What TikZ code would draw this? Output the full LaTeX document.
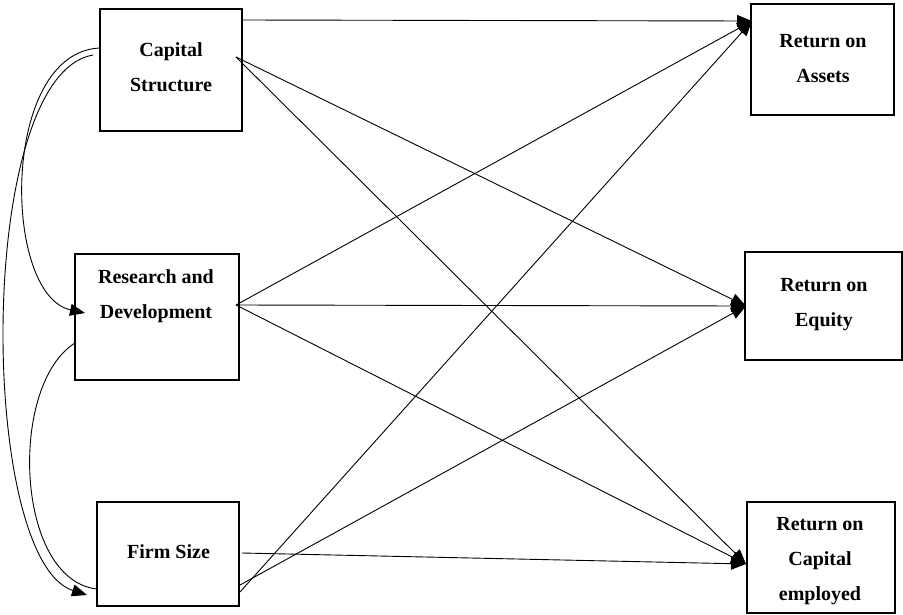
\documentclass[tikz,border=0pt]{standalone}
\usepackage{fontspec}
\setmainfont{Liberation Serif}
\usetikzlibrary{arrows.meta}
\begin{document}
\begin{tikzpicture}[x=1pt,y=-1pt,
  box/.style args={#1x#2}{draw,line width=1.8pt,minimum width=#1pt,minimum height=#2pt,inner sep=0pt},
  lbl/.style={font=\fontsize{20}{35}\selectfont\bfseries,align=center,inner sep=0pt},
  link/.style={line width=0.9pt},
  arr/.style={line width=0.9pt,-{Triangle[length=15pt,width=12pt]}}]
\useasboundingbox (0,0) rectangle (903,614);
% boxes
\node[box=142x122] (cs) at (171,70) {};
\node[box=164x126] (rd) at (157,317) {};
\node[box=142x104] (fs) at (168,554) {};
\node[box=143x111] (roa) at (822.5,59.5) {};
\node[box=157x108] (roe) at (823.5,306) {};
\node[box=148x111] (roce) at (821,557.5) {};
% labels
\node[lbl] (tcs) at (171,67) {Capital\\Structure};
\node[lbl] (trd) at (156,296) {Research and\\Development};
\node[lbl] (tfs) at (168.5,552) {Firm Size};
\node[lbl] (troa) at (823,59) {Return on\\Assets};
\node[lbl] (troe) at (824,305) {Return on\\Equity};
\node[lbl] (troce) at (820,561) {Return on\\Capital\\employed};
% ports
\coordinate (csA) at (242,20);
\coordinate (csB) at (236,57);
\coordinate (csL1) at (100,48);
\coordinate (csL2) at (93,55);
\coordinate (rdR) at (236,305);
\coordinate (rdL) at (75,343);
\coordinate (rdIn) at (85,313);
\coordinate (fsR) at (242,553);
\coordinate (fsB1) at (240,585);
\coordinate (fsB2) at (240,592);
\coordinate (fsIn) at (87,595);
\coordinate (fsL) at (97,589);
\coordinate (roaIn) at (752,21);
\coordinate (roeIn) at (746,306);
\coordinate (roceIn) at (746,564);
% arrows to outcomes
\draw[arr] (csA) -- (roaIn);
\draw[arr] (csB) -- (roeIn);
\draw[arr] (csB) -- (roceIn);
\draw[arr] (rdR) -- (roaIn);
\draw[arr] (rdR) -- (roeIn);
\draw[arr] (rdR) -- (roceIn);
\draw[arr] (fsR) -- (roceIn);
\draw[arr] (fsB1) -- (roeIn);
\draw[arr] (fsB2) -- (roaIn);
% curved links on the left
\draw[arr] (csL1) .. controls (0,52) and (2,295) .. (rdIn);
\draw[arr] (csL2) .. controls (-25,75) and (-22,560) .. (fsIn);
\draw[link] (rdL) .. controls (8,385) and (15,580) .. (fsL);
\end{tikzpicture}
\end{document}
